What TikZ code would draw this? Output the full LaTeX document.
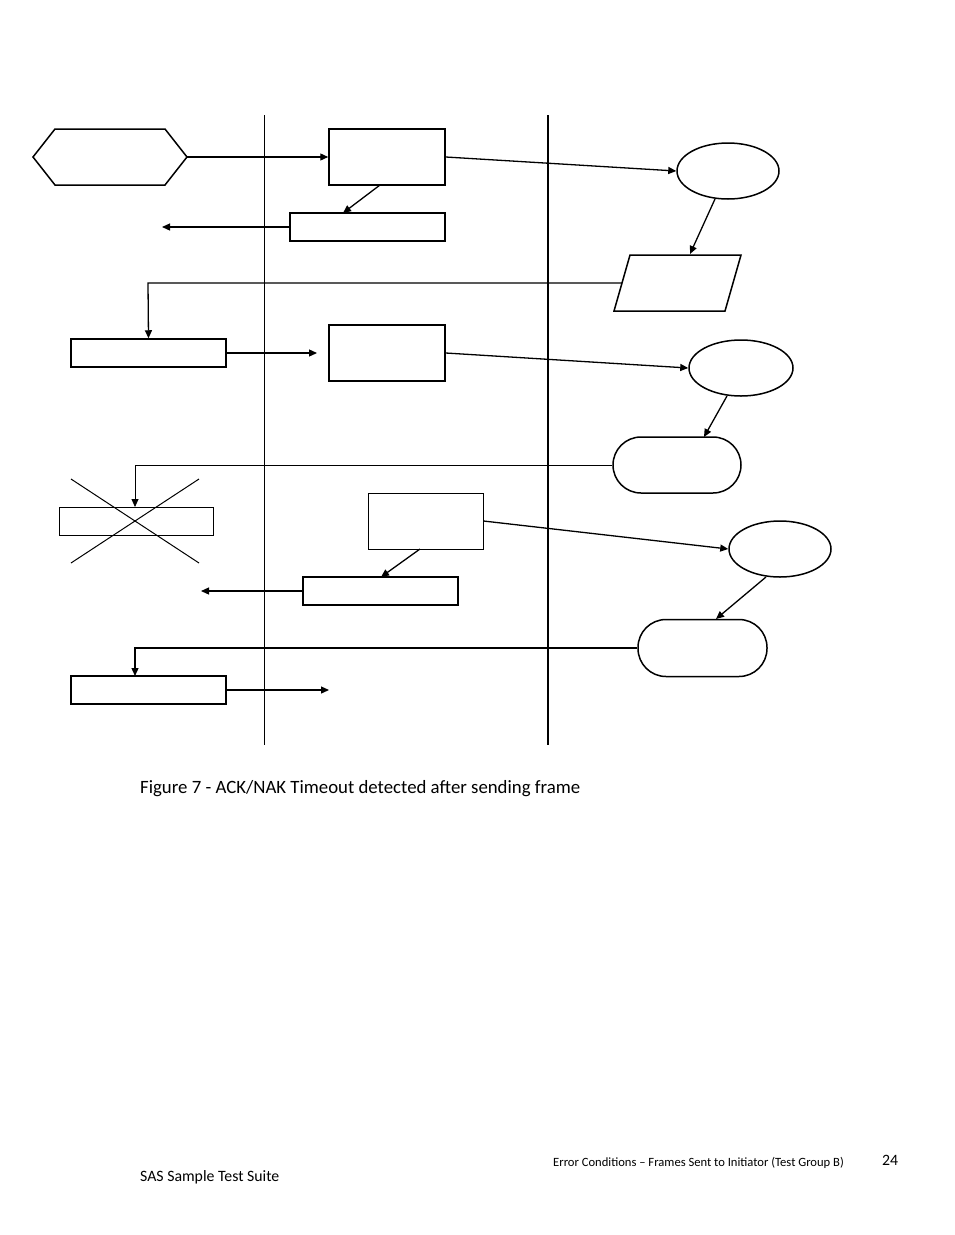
\documentclass[tikz,border=0pt]{standalone}
\usepackage{fontspec}
\setmainfont{Carlito}
\usetikzlibrary{shapes.geometric,arrows.meta}
\begin{document}
\begin{tikzpicture}[x=1pt,y=-1pt,
  bx/.style={draw,line width=1.5pt,rectangle,inner sep=0pt},
  el/.style={draw,line width=1.5pt,ellipse,inner sep=0pt},
  ar/.style={-{Triangle[length=8pt,width=7pt]},line width=1.3pt},
  lb/.style={inner sep=0pt,anchor=base west}]
\useasboundingbox (0,0) rectangle (954,1235);
\fill[white] (0,0) rectangle (954,1235);
% lanes
\draw[line width=1pt] (264,115) -- (264,745);
\draw[line width=2.5pt] (548,115) -- (548,745);
% hexagon
\draw[line width=1.5pt] (33,157) -- (55,129) -- (165,129) -- (187,157) -- (165,185) -- (55,185) -- cycle;
\coordinate (hex) at (187,157);
\node[bx,minimum width=116pt,minimum height=56pt] (A) at (387,157) {};
\node[bx,minimum width=155pt,minimum height=28pt] (B) at (367.5,227) {};
\node[el,minimum width=102pt,minimum height=56pt] (E1) at (728,171) {};
\draw[line width=1.5pt] (630,255) -- (741,255) -- (725,311) -- (614,311) -- cycle;
\coordinate (P) at (622,283);
\node[bx,minimum width=155pt,minimum height=28pt] (C) at (148.5,353) {};
\node[bx,minimum width=116pt,minimum height=56pt] (D) at (387,353) {};
\node[el,minimum width=104pt,minimum height=56pt] (E2) at (741,368) {};
\node[bx,rounded corners=28pt,minimum width=128pt,minimum height=56pt] (R1) at (677,465) {};
\node[bx,line width=1pt,minimum width=154pt,minimum height=28pt] (F) at (136,521) {};
\node[bx,line width=1pt,minimum width=115pt,minimum height=56pt] (G) at (425.5,521) {};
\node[el,minimum width=102pt,minimum height=56pt] (E3) at (780,549) {};
\node[bx,minimum width=155pt,minimum height=28pt] (H) at (380.5,591) {};
\node[bx,rounded corners=28pt,minimum width=129pt,minimum height=57pt] (R2) at (702.5,648) {};
\node[bx,minimum width=155pt,minimum height=28pt] (J) at (148.5,690) {};
% connectors
\draw[ar] (hex) -- (A.west);
\draw[ar] (A.east) -- (E1.west);
\draw[ar] (380,185) -- (343,213);
\draw[ar] (B.west) -- (162,227);
\draw[ar] (715,199) -- (690,254);
\draw[ar] (P) -- (148,283) -- (C.north);
\draw[ar] (C.east) -- (317,353);
\draw[ar] (D.east) -- (E2.west);
\draw[ar] (727,396) -- (704,437);
\draw[-{Triangle[length=8pt,width=7pt]},line width=0.8pt] (R1.west) -- (135,465) -- (135,507);
\draw[line width=1pt] (71,479) -- (199,563) (199,479) -- (71,563);
\draw[ar] (G.east) -- (E3.west);
\draw[ar] (420,549) -- (381,577);
\draw[ar] (H.west) -- (201,591);
\draw[ar] (766,577) -- (716,619);
\draw[ar] (R2.west) -- (135,648) -- (135,676);
\draw[ar] (J.east) -- (329,690);
% texts
\node[lb,font=\fontsize{18.8pt}{22pt}\selectfont] (cap) at (140,793) {Figure 7 - ACK/NAK Timeout detected after sending frame};
\node[lb,font=\fontsize{15.8pt}{18pt}\selectfont] (ft1) at (140,1181) {SAS Sample Test Suite};
\node[lb,font=\fontsize{12.6pt}{14pt}\selectfont] (ft2) at (553,1166) {Error Conditions – Frames Sent to Initiator (Test Group B)};
\node[lb,font=\fontsize{15.8pt}{18pt}\selectfont] (ft3) at (882,1165) {24};
\end{tikzpicture}
\end{document}
